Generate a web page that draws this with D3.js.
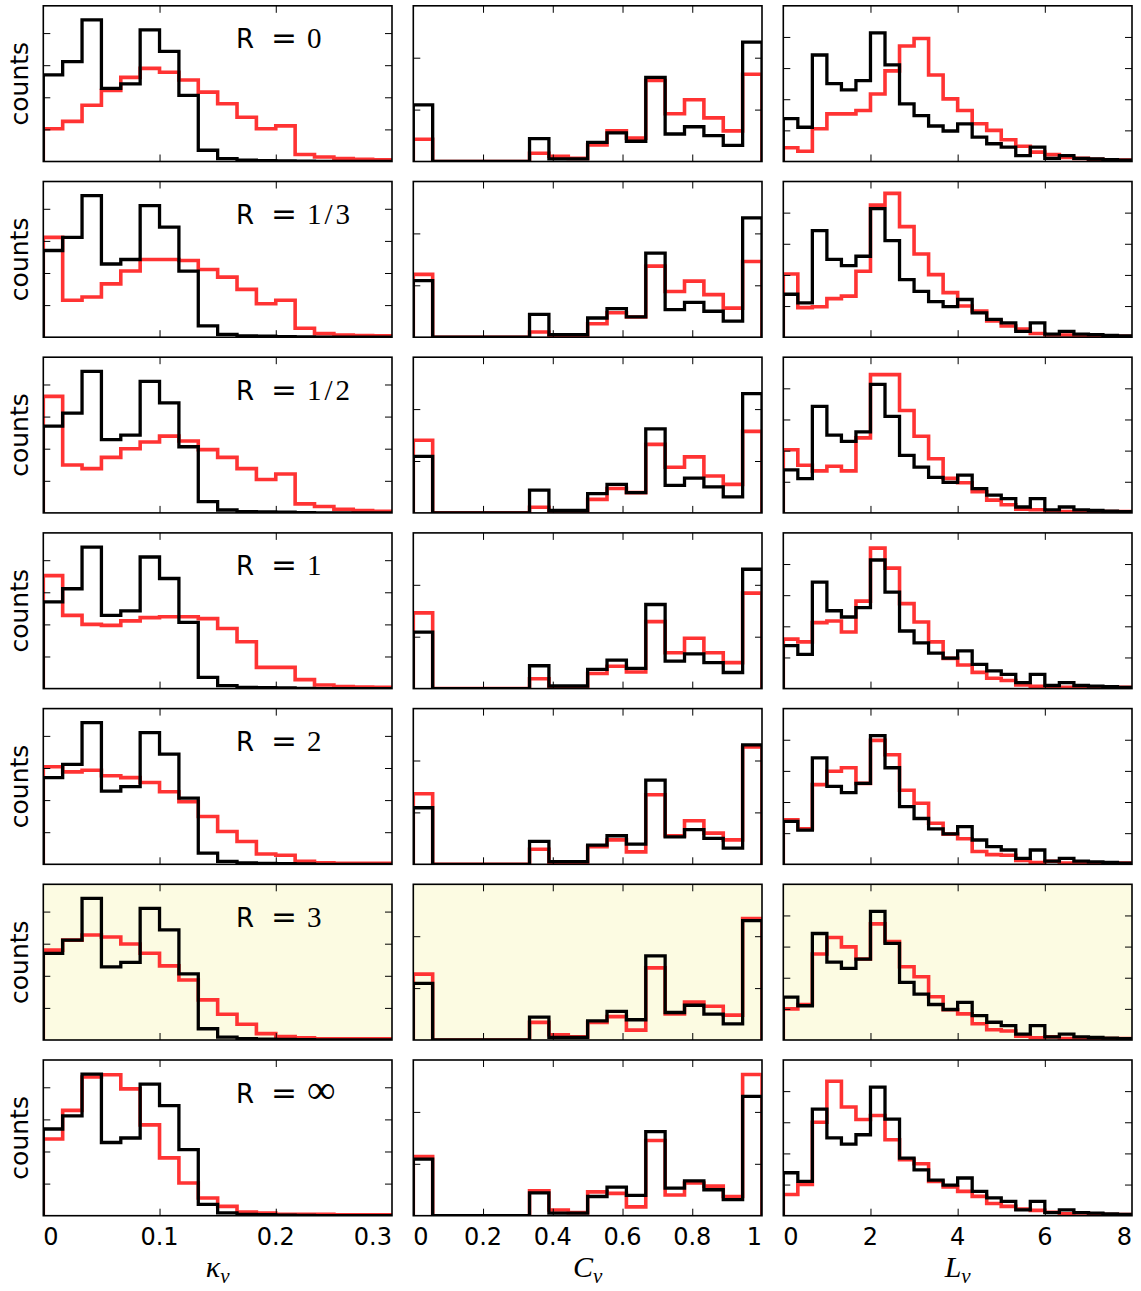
<!DOCTYPE html>
<html>
<head>
<meta charset="utf-8">
<style>
  body { margin: 0; background: #fff; }
  text { fill: #000; }
</style>
</head>
<body>
<svg id="fig" width="1141" height="1291"></svg>
<script src="https://d3js.org/d3.v7.min.js"></script>
<script>
// rows: one per value of R, the yellow one is highlighted
var rLabels = ["0", "1/3", "1/2", "1", "2", "3", "\u221e"];
var highlightRow = 5;

// x ranges of the three columns and their tick labels
var kappaRange = [0, 0.3];
var clustRange = [0, 1];
var lengthRange = [0, 8];
var kappaTicks = [0, 0.1, 0.2, 0.3];
var clustTicks = [0, 0.2, 0.4, 0.6, 0.8, 1];
var lengthTicks = [0, 2, 4, 6, 8];
var kappaTickLabels = ["0", "0.1", "0.2", "0.3"];
var clustTickLabels = ["0", "0.2", "0.4", "0.6", "0.8", "1"];
var lengthTickLabels = ["0", "2", "4", "6", "8"];

// y: counts (unlabelled ticks)
var kappaYMax = 48.5, clustYMax = 30, lengthYMax = 50;
var kappaYTicks = [10, 20, 30, 40];
var clustYTicks = [10, 20];
var lengthYTicks = [10, 20, 30, 40];

// black = observed histogram (same in every row)
var kappaObs = [27.0, 31.1, 44.1, 22.8, 24.2, 41.0, 34.3, 20.6, 3.5, 0.9, 0.4, 0.3, 0.2, 0.1, 0, 0, 0, 0];
var clustObs = [10.9, 0, 0, 0, 0, 0, 4.4, 0.5, 0.5, 3.7, 5.5, 3.9, 16.2, 5.3, 6.7, 5.0, 3.1, 23.0];
var lengthObs = [13.8, 11.0, 34.2, 25.0, 23.0, 26.0, 41.3, 31.0, 18.5, 14.7, 11.4, 9.8, 12.1, 7.8, 5.7, 4.6, 1.9, 4.6, 1.0, 1.9, 1.0, 0.8, 0.6, 0.4];

// red = model histogram, one list per R
var kappaModel = [
  [10.2, 12.5, 17.5, 22.1, 26.2, 29.0, 27.8, 25.4, 21.6, 18.0, 13.8, 10.2, 11.1, 2.2, 1.4, 0.9, 0.7, 0.5],
  [31.1, 11.5, 12.5, 16.6, 20.6, 24.2, 24.2, 23.9, 21.1, 18.7, 14.9, 10.4, 11.5, 2.8, 1.1, 0.7, 0.5, 0.4],
  [36.3, 14.9, 13.8, 17.3, 20.0, 22.1, 23.9, 22.4, 19.7, 17.3, 13.8, 10.4, 12.1, 2.8, 2.0, 1.1, 0.7, 0.5],
  [35.2, 22.8, 20.0, 19.7, 21.1, 22.1, 22.4, 22.4, 21.8, 18.7, 14.6, 6.6, 6.6, 2.8, 1.1, 0.6, 0.5, 0.4],
  [30.4, 28.8, 29.3, 27.6, 27.0, 25.5, 22.6, 19.5, 14.9, 10.2, 7.1, 3.2, 2.8, 0.9, 0.5, 0.3, 0.3, 0.3],
  [28.0, 31.1, 32.7, 32.1, 29.9, 27.0, 23.1, 18.7, 12.5, 8.0, 4.9, 2.0, 1.1, 0.7, 0.4, 0.4, 0.4, 0.4],
  [23.9, 32.8, 43.2, 43.9, 39.5, 28.3, 18.0, 10.2, 5.5, 2.9, 1.1, 0.8, 0.4, 0.4, 0.4, 0.3, 0.3, 0.3]
];
var clustModel = [
  [4.3, 0, 0, 0, 0, 0, 1.6, 1.0, 0.6, 3.2, 5.9, 4.5, 15.6, 9.2, 11.9, 8.4, 5.9, 16.8],
  [12.1, 0, 0, 0, 0, 0, 1.0, 0.2, 0.2, 2.6, 4.7, 3.9, 13.7, 8.8, 10.8, 8.2, 5.6, 14.6],
  [14.0, 0, 0, 0, 0, 0, 1.1, 0.3, 0.3, 2.6, 4.7, 3.9, 13.2, 8.8, 10.8, 7.1, 5.5, 15.7],
  [14.6, 0, 0, 0, 0, 0, 1.9, 0.2, 0.2, 2.9, 4.3, 3.2, 12.9, 6.9, 9.7, 6.9, 5.0, 18.4],
  [13.6, 0, 0, 0, 0, 0, 2.9, 0.3, 0.3, 3.4, 4.7, 2.4, 13.4, 5.5, 8.4, 6.0, 4.7, 22.6],
  [12.7, 0, 0, 0, 0, 0, 3.4, 1.0, 0.6, 3.4, 4.5, 1.9, 13.9, 5.0, 7.3, 6.5, 4.8, 23.4],
  [11.4, 0, 0, 0, 0, 0, 4.8, 1.1, 0.6, 4.6, 4.3, 1.7, 14.5, 4.0, 6.3, 5.7, 3.7, 27.2]
];
var lengthModel = [
  [4.4, 3.3, 10.5, 15.3, 15.3, 16.4, 21.7, 29.1, 37.1, 39.5, 27.8, 20.1, 16.4, 12.1, 10.0, 7.0, 4.9, 3.0, 2.2, 1.3, 1.0, 0.7, 0.5, 0.5],
  [20.3, 9.5, 9.8, 12.4, 13.2, 21.2, 42.4, 46.2, 35.5, 26.7, 20.1, 14.3, 10.0, 8.4, 5.2, 3.6, 2.6, 1.2, 0.7, 0.7, 0.4, 0.3, 0.3, 0.3],
  [20.3, 15.3, 13.5, 15.0, 13.5, 24.1, 44.4, 44.4, 32.9, 24.6, 17.4, 11.1, 9.7, 6.8, 4.1, 2.6, 1.2, 1.0, 0.7, 0.4, 0.4, 0.4, 0.4, 0.4],
  [15.9, 15.0, 21.2, 21.7, 18.2, 28.1, 45.1, 38.7, 27.3, 21.4, 15.0, 9.7, 7.6, 5.2, 3.3, 2.6, 1.2, 0.7, 0.6, 0.4, 0.4, 0.4, 0.4, 0.4],
  [14.3, 11.4, 25.6, 29.9, 31.0, 26.0, 39.8, 35.2, 23.8, 19.6, 13.2, 9.7, 8.2, 4.1, 3.1, 2.9, 1.2, 0.6, 1.0, 0.4, 0.4, 0.4, 0.4, 0.4],
  [10.0, 11.4, 27.6, 32.9, 29.9, 26.0, 37.3, 31.6, 23.5, 20.3, 13.9, 9.7, 8.4, 5.2, 3.3, 2.9, 1.2, 0.7, 1.0, 0.5, 0.5, 0.5, 0.5, 0.5],
  [6.8, 10.0, 30.0, 43.2, 34.9, 30.9, 32.2, 24.4, 18.0, 16.7, 11.0, 9.2, 7.8, 6.2, 3.9, 3.0, 2.1, 1.7, 1.1, 0.6, 0.9, 0.6, 0.4, 0.4]
];

var columns = [
  { range: kappaRange, ticks: kappaTicks, labels: kappaTickLabels, ymax: kappaYMax, yticks: kappaYTicks, obs: kappaObs, model: kappaModel, sym: "\u03ba" },
  { range: clustRange, ticks: clustTicks, labels: clustTickLabels, ymax: clustYMax, yticks: clustYTicks, obs: clustObs, model: clustModel, sym: "C" },
  { range: lengthRange, ticks: lengthTicks, labels: lengthTickLabels, ymax: lengthYMax, yticks: lengthYTicks, obs: lengthObs, model: lengthModel, sym: "L" }
];

var svg = d3.select("#fig");
var left0 = 43.3, colStep = 370, top0 = 5.8, rowStep = 175.7;
var panelW = 348.7, panelH = 155.7, tickLen = 7;
var redColor = "#ff3333";

// histogram outline: baseline -> up -> steps -> down to baseline
function stepPoints(vals, lo, hi) {
  var n = vals.length, w = (hi - lo) / n;
  var pts = [[lo, 0]];
  vals.forEach(function (v, i) { pts.push([lo + i * w, v]); });
  pts.push([hi, vals[n - 1]]);
  pts.push([hi, 0]);
  return pts;
}

rLabels.forEach(function (rl, r) {
  columns.forEach(function (col, c) {
    var g = svg.append("g")
      .attr("transform", "translate(" + (left0 + c * colStep) + "," + (top0 + r * rowStep) + ")");

    var x = d3.scaleLinear().domain(col.range).range([0, panelW]);
    var y = d3.scaleLinear().domain([0, col.ymax]).range([panelH, 0]);

    g.append("rect")
      .attr("width", panelW).attr("height", panelH)
      .attr("fill", r === highlightRow ? "#fcfbe2" : "#fff");

    var clipId = "clip" + r + "_" + c;
    g.append("clipPath").attr("id", clipId)
      .append("rect").attr("width", panelW).attr("height", panelH);

    var line = d3.line()
      .x(function (d) { return x(d[0]); })
      .y(function (d) { return y(d[1]); })
      .curve(d3.curveStepAfter);

    var lines = g.append("g").attr("clip-path", "url(#" + clipId + ")");
    lines.append("path")
      .datum(stepPoints(col.model[r], col.range[0], col.range[1]))
      .attr("fill", "none")
      .attr("stroke", redColor)
      .attr("stroke-width", 3.6)
      .attr("d", line);
    lines.append("path")
      .datum(stepPoints(col.obs, col.range[0], col.range[1]))
      .attr("fill", "none")
      .attr("stroke", "#000")
      .attr("stroke-width", 3.3)
      .attr("d", line);

    // inward ticks on all four sides
    var inner = col.ticks.slice(1, -1);
    function strip(sel) { sel.select(".domain").remove(); sel.selectAll("line").attr("stroke", "#000"); }
    g.append("g").call(d3.axisLeft(y).tickValues(col.yticks).tickSize(-tickLen).tickFormat("")).call(strip);
    g.append("g").attr("transform", "translate(" + panelW + ",0)")
      .call(d3.axisRight(y).tickValues(col.yticks).tickSize(-tickLen).tickFormat("")).call(strip);
    g.append("g").call(d3.axisTop(x).tickValues(inner).tickSize(-tickLen).tickFormat("")).call(strip);
    g.append("g").attr("transform", "translate(0," + panelH + ")")
      .call(d3.axisBottom(x).tickValues(inner).tickSize(-tickLen).tickFormat("")).call(strip);

    g.append("rect")
      .attr("width", panelW).attr("height", panelH)
      .attr("fill", "none").attr("stroke", "#000").attr("stroke-width", 1.6);

    if (c === 0) {
      svg.append("text")
        .attr("transform", "translate(28," + (top0 + r * rowStep + panelH / 2) + ") rotate(-90)")
        .attr("text-anchor", "middle")
        .style("font-family", "DejaVu Sans")
        .style("font-size", "25px")
        .text("counts");

      var ty = top0 + r * rowStep + 42.5;
      svg.append("text").attr("x", 236).attr("y", ty)
        .style("font-family", "DejaVu Sans").style("font-size", "26px").text("R");
      svg.append("text").attr("x", 284).attr("y", ty).attr("text-anchor", "middle")
        .style("font-family", "DejaVu Sans").style("font-size", "31px").text("=");
      var isInf = rl === "\u221e";
      svg.append("text").attr("x", 307).attr("y", ty)
        .style("font-family", "Liberation Serif")
        .style("font-size", isInf ? "40px" : "29px")
        .style("letter-spacing", rl.length > 1 ? "3px" : "0px")
        .text(rl);
    }

    if (r === rLabels.length - 1) {
      g.selectAll("text.tl")
        .data(col.ticks)
        .enter().append("text")
        .attr("class", "tl")
        .attr("x", function (d) { return x(d); })
        .attr("y", panelH + 29.3)
        .attr("text-anchor", function (d, i) {
          return i === 0 ? "start" : (i === col.ticks.length - 1 ? "end" : "middle");
        })
        .style("font-family", "DejaVu Sans")
        .style("font-size", "24px")
        .text(function (d, i) { return col.labels[i]; });

      var t = g.append("text")
        .attr("x", panelW / 2)
        .attr("y", panelH + 61)
        .attr("text-anchor", "middle")
        .style("font-family", "Liberation Serif")
        .style("font-style", "italic")
        .style("font-size", "30px");
      t.append("tspan").text(col.sym);
      t.append("tspan").attr("dy", 6).style("font-size", "21px").text("\u03bd");
    }
  });
});
</script>
</body>
</html>
